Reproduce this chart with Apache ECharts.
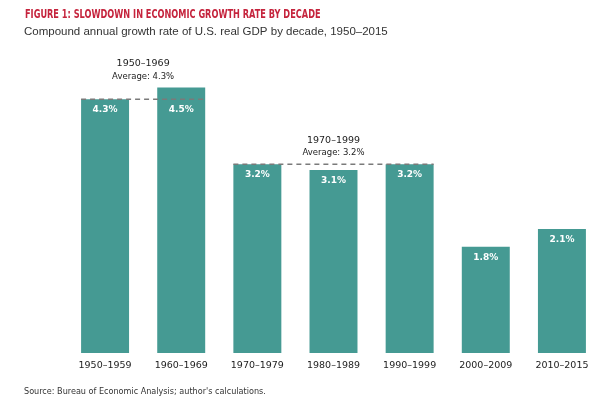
<!DOCTYPE html>
<html>
<head>
<meta charset="utf-8">
<script src="https://cdn.jsdelivr.net/npm/echarts@6/dist/echarts.min.js"></script>
<style>
  html, body { margin: 0; padding: 0; background: #fff; }
  #chart { width: 600px; height: 399px; }
</style>
</head>
<body>
<div id="chart"></div>
<script>
// data
const decades = ['1950–1959', '1960–1969', '1970–1979', '1980–1989', '1990–1999', '2000–2009', '2010–2015'];
const growth = [4.3, 4.5, 3.2, 3.1, 3.2, 1.8, 2.1];
// period averages: first decade index, last decade index, value, label
const avgStart = [0, 2];
const avgEnd = [1, 4];
const avgValue = [4.3, 3.2];
const avgPeriod = ['1950–1969', '1970–1999'];

const BAR_RATIO = 0.63;
const NARROW = '"DejaVu Sans Condensed", "Liberation Sans", sans-serif';

const avgData = avgStart.map((s, i) => {
  const peak = Math.max(avgValue[i], ...growth.slice(s, avgEnd[i] + 1));
  return [s, avgEnd[i], avgValue[i], peak, i];
});

let chart = echarts.init(document.getElementById('chart'));
chart.setOption({
  animation: false,
  title: [
    {
      text: 'Compound annual growth rate of U.S. real GDP by decade, 1950–2015',
      left: 24, top: 26, padding: 0,
      textStyle: { fontFamily: 'Liberation Sans', fontWeight: 'normal', fontSize: 11.5, color: '#333' }
    },
    {
      text: 'Source: Bureau of Economic Analysis; author\'s calculations.',
      left: 24, top: 387, padding: 0,
      textStyle: { fontFamily: NARROW, fontWeight: 'normal', fontSize: 9, color: '#333' }
    }
  ],
  graphic: [
    {
      type: 'text', left: 25, top: 9, scaleX: 0.76,
      style: {
        text: 'FIGURE 1: SLOWDOWN IN ECONOMIC GROWTH RATE BY DECADE',
        font: 'bold 12px ' + NARROW, fill: '#c5243d'
      }
    }
  ],
  grid: { left: 67, right: 0, top: 58, bottom: 46 },
  xAxis: {
    type: 'category',
    data: decades,
    axisLine: { show: false },
    axisTick: { show: false },
    axisLabel: { fontFamily: 'DejaVu Sans', fontSize: 9.5, color: '#222', margin: 8 }
  },
  yAxis: {
    type: 'value', min: 0, max: 5,
    show: false,
    splitLine: { show: false }
  },
  series: [
    {
      type: 'bar',
      data: growth,
      barCategoryGap: ((1 - BAR_RATIO) * 100) + '%',
      itemStyle: { color: '#459a93' },
      label: {
        show: true, position: 'insideTop', distance: 6,
        formatter: p => p.value.toFixed(1) + '%',
        fontFamily: 'DejaVu Sans', fontWeight: 'bold', fontSize: 9, color: '#fff'
      }
    },
    {
      type: 'custom',
      data: avgData,
      clip: false,
      z: 5,
      renderItem: (params, api) => {
        const s = api.value(0), e = api.value(1), v = api.value(2), peak = api.value(3);
        const i = api.value(4);
        const half = api.size([1, 0])[0] * BAR_RATIO / 2;
        const p0 = api.coord([s, v]);
        const p1 = api.coord([e, v]);
        const top = api.coord([s, peak])[1];
        const cx = (p0[0] + p1[0]) / 2;
        return {
          type: 'group',
          children: [
            {
              type: 'line',
              shape: { x1: p0[0] - half, y1: p0[1], x2: p1[0] + half, y2: p1[1] },
              style: { stroke: '#7a7a7a', lineWidth: 1.5, lineDash: [5, 4] }
            },
            {
              type: 'text',
              style: {
                text: avgPeriod[i], x: cx, y: top - 24,
                align: 'center', verticalAlign: 'middle',
                font: '9.5px "DejaVu Sans"', fill: '#222'
              }
            },
            {
              type: 'text',
              style: {
                text: 'Average: ' + v.toFixed(1) + '%', x: cx, y: top - 11,
                align: 'center', verticalAlign: 'middle',
                font: '8.5px "DejaVu Sans"', fill: '#222'
              }
            }
          ]
        };
      }
    }
  ]
});

// bars taller than their period average get the label pushed below the dashed line
const barData = growth.map((v, i) => {
  const g = avgStart.findIndex((s, k) => i >= s && i <= avgEnd[k]);
  if (g < 0 || v <= avgValue[g]) return v;
  const dy = chart.convertToPixel({ yAxisIndex: 0 }, avgValue[g]) - chart.convertToPixel({ yAxisIndex: 0 }, v);
  return { value: v, label: { offset: [0, dy] } };
});
chart.setOption({ series: [{ data: barData }] });
</script>
</body>
</html>
